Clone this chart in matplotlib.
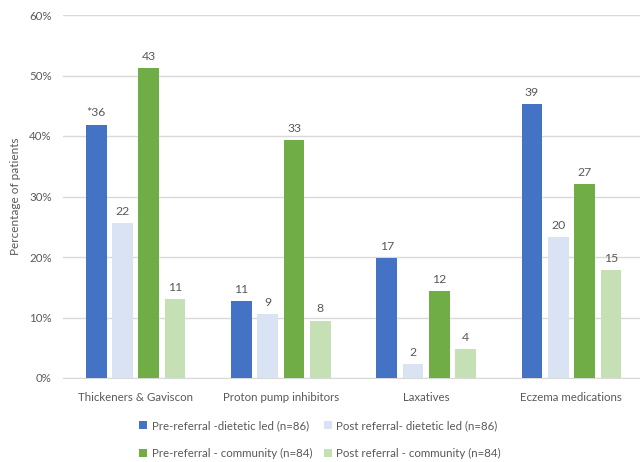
import numpy as np
import matplotlib
matplotlib.use("Agg")
import matplotlib.pyplot as plt

categories = ["Thickeners & Gaviscon", "Proton pump inhibitors", "Laxatives", "Eczema medications"]
series_names = ["Pre-referral -dietetic led (n=86)", "Post referral- dietetic led (n=86)",
                "Pre-referral - community (n=84)", "Post referral - community (n=84)"]

# percentage of patients (bar heights)
pre_diet = [41.9, 12.8, 19.8, 45.3]
post_diet = [25.6, 10.5, 2.3, 23.3]
pre_comm = [51.2, 39.3, 14.3, 32.1]
post_comm = [13.1, 9.5, 4.8, 17.9]

# counts shown above bars
pre_diet_lbl = ["*36", "11", "17", "39"]
post_diet_lbl = ["22", "9", "2", "20"]
pre_comm_lbl = ["43", "33", "12", "27"]
post_comm_lbl = ["11", "8", "4", "15"]

colors = ["#4472C4", "#DAE3F3", "#70AD47", "#C5E0B4"]
text_col = "#595959"

plt.rcParams['font.family'] = ['Lato', 'DejaVu Sans']

fig = plt.figure(figsize=(6.4, 4.62), dpi=100)
ax = fig.add_axes([63 / 640, 1 - 378 / 462, 1 - 63 / 640, (378 - 15) / 462])

x = np.arange(len(categories))
width = 0.142
step = 0.181
offsets = [-1.5 * step, -0.5 * step, 0.5 * step, 1.5 * step]
data = [pre_diet, post_diet, pre_comm, post_comm]
labels = [pre_diet_lbl, post_diet_lbl, pre_comm_lbl, post_comm_lbl]

handles = []
for vals, lbls, off, c, name in zip(data, labels, offsets, colors, series_names):
    b = ax.bar(x + off, vals, width, color=c, label=name, zorder=3)
    handles.append(b)
    for xi, v, l in zip(x + off, vals, lbls):
        ax.text(xi, v + 1.0, l, ha="center", va="bottom", fontsize=8.8, color=text_col)

ax.set_xlim(-0.5, 3.472)
ax.set_ylim(0, 60)
ax.set_yticks(np.arange(0, 61, 10))
ax.set_yticklabels([f"{t}%" for t in range(0, 61, 10)])
ax.set_xticks(x)
ax.set_xticklabels(categories)
ax.tick_params(axis="both", length=0, labelsize=8.3, labelcolor=text_col)
ax.tick_params(axis="x", pad=10)
ax.tick_params(axis="y", pad=8)
ax.grid(axis="y", color="#D9D9D9", linewidth=1, zorder=0)
for s in ["top", "right", "left"]:
    ax.spines[s].set_visible(False)
ax.spines["bottom"].set_color("#D9D9D9")
ax.set_ylabel("Percentage of patients", fontsize=8.5, color=text_col, labelpad=6)

order = [0, 2, 1, 3]
fig.legend([handles[i] for i in order], [series_names[i] for i in order],
           loc="center", bbox_to_anchor=(0.5, 1 - 439.5 / 462), ncol=2, frameon=False,
           fontsize=8.3, labelcolor=text_col, handlelength=0.7, handleheight=0.7,
           handletextpad=0.4, columnspacing=1.0, labelspacing=1.45)

fig.savefig("out.png", dpi=100)
